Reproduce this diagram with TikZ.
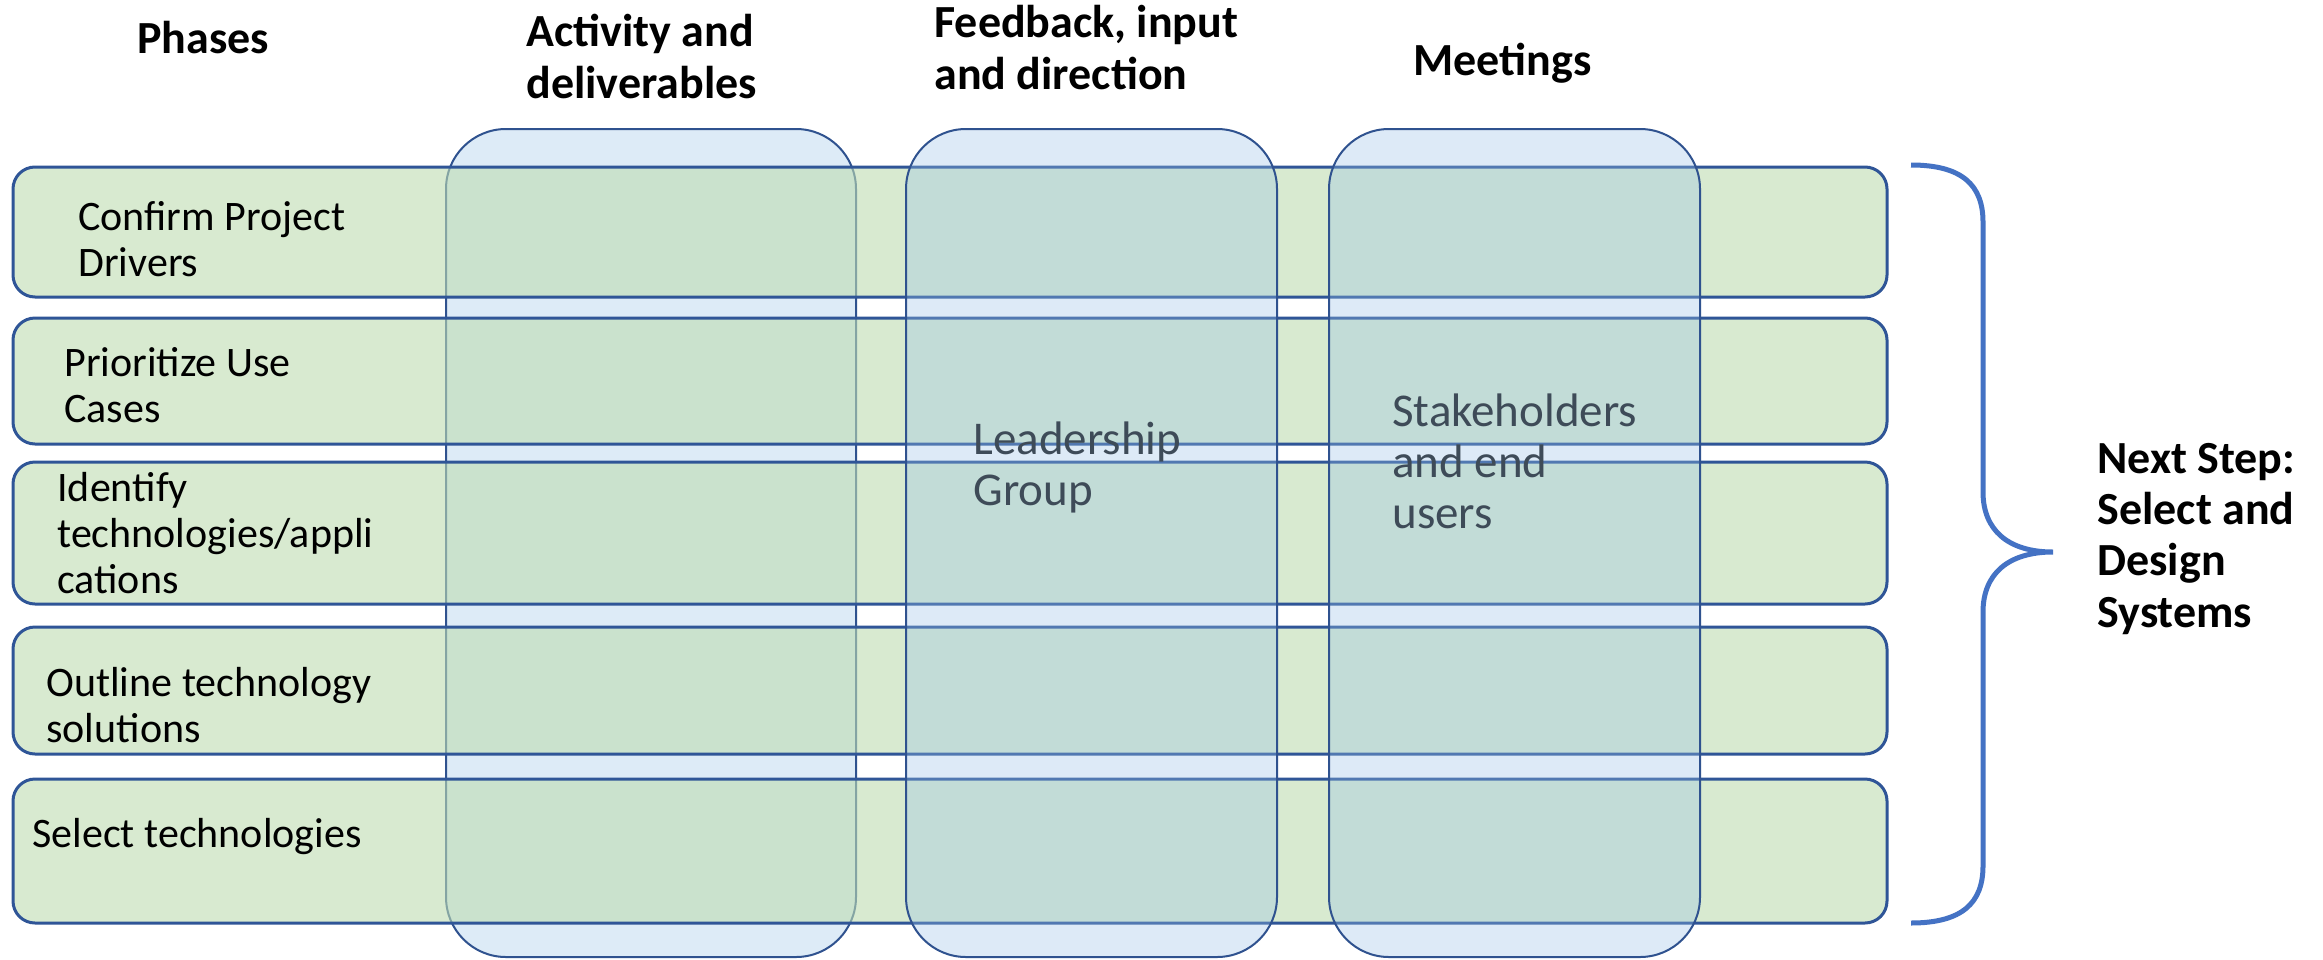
\documentclass[tikz,border=0pt]{standalone}
\usepackage{fontspec}
\setmainfont{Carlito}
\definecolor{rowline}{RGB}{47,85,151}
\definecolor{rowfill}{RGB}{190,220,177}
\definecolor{colfill}{RGB}{221,235,247}
\definecolor{coltint}{RGB}{152,194,231}
\definecolor{colline}{RGB}{47,82,143}
\definecolor{bracecol}{RGB}{68,114,196}
\definecolor{softtext}{RGB}{62,75,88}
\begin{document}
\begin{tikzpicture}[x=0.5pt,y=0.5pt,
  rowbox/.style={draw=rowline, line width=1.5pt, fill=rowfill, fill opacity=0.6, draw opacity=1, rounded corners=11pt},
  firstcol/.style={draw=colline, line width=1pt, fill=colfill, rounded corners=30pt},
  overcol/.style={draw=colline, line width=1pt, fill=coltint, fill opacity=0.33, draw opacity=1, rounded corners=30pt},
  header/.style={font=\bfseries\fontsize{23pt}{25.6pt}\selectfont, align=left, inner sep=0pt, anchor=base west, text=black},
  phase/.style={font=\fontsize{21pt}{23pt}\selectfont, align=left, inner sep=0pt, anchor=base west, text=black},
  group/.style={font=\fontsize{23.5pt}{25.3pt}\selectfont, align=left, inner sep=0pt, anchor=base west, text=softtext},
  bracestyle/.style={draw=bracecol, line width=2.5pt}]
\useasboundingbox (0,0) rectangle (2323,-959);
\fill[white] (0,0) rectangle (2323,-959);
% first column (behind the rows)
\draw[firstcol] (446,-129) rectangle (856,-957);
% phase rows
\draw[rowbox] (13,-167) rectangle (1887,-297);
\draw[rowbox] (13,-318) rectangle (1887,-444);
\draw[rowbox] (13,-462) rectangle (1887,-604);
\draw[rowbox] (13,-627) rectangle (1887,-754);
\draw[rowbox] (13,-779) rectangle (1887,-923);
% columns over the rows
\draw[overcol] (906,-129) rectangle (1277,-957);
\draw[overcol] (1329,-129) rectangle (1700,-957);
% headers (anchored at the baseline of their last line)
\node[header] (hphases) at (137,-53) {Phases};
\node[header] (hactivity) at (526,-98) {Activity and\\deliverables};
\node[header] (hfeedback) at (934,-89) {Feedback, input\\and direction};
\node[header] (hmeetings) at (1413,-75) {Meetings};
% phases
\node[phase] (p1) at (78,-276) {Confirm Project\\Drivers};
\node[phase] (p2) at (64,-422) {Prioritize Use\\Cases};
\node[phase] (p3) at (57,-593) {Identify\\technologies/appli\\cations};
\node[phase] (p4) at (46,-742) {Outline technology\\solutions};
\node[phase] (p5) at (32,-847) {Select technologies};
% groups
\node[group] (leaders) at (973,-505) {Leadership\\Group};
\node[group] (stake) at (1392,-528) {Stakeholders\\and end\\users};
% brace
\coordinate (btop) at (1911,-165);
\coordinate (btip) at (2053,-552);
\coordinate (bbot) at (1911,-923);
\draw[bracestyle] (btop) .. controls (1962,-165) and (1983,-185) .. (1983,-222)
  -- (1983,-492) .. controls (1983,-530) and (2008,-552) .. (btip)
  .. controls (2008,-552) and (1983,-574) .. (1983,-612)
  -- (1983,-866) .. controls (1983,-903) and (1962,-923) .. (bbot);
\node[header] (next) at (2097,-627) {Next Step:\\Select and\\Design\\Systems};
\end{tikzpicture}
\end{document}
